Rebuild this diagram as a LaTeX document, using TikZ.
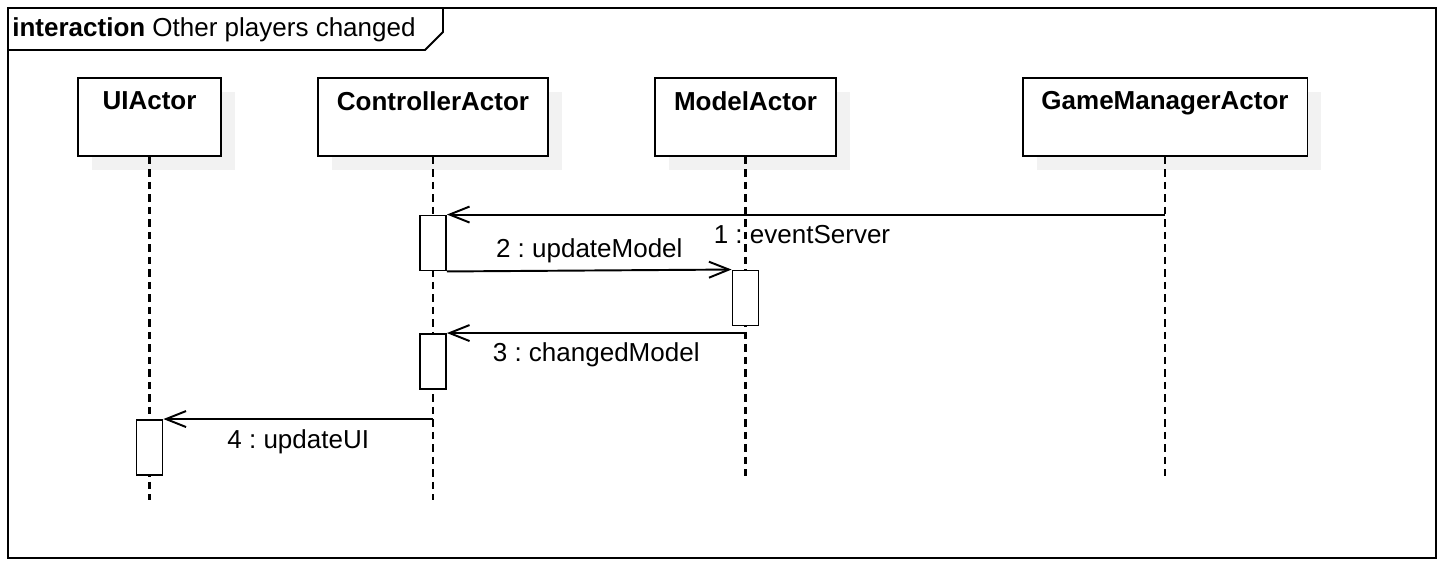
\documentclass[tikz,border=0pt]{standalone}
\usepackage{fontspec}
\setmainfont{Liberation Sans}
\usepackage{tikz}
\usetikzlibrary{arrows.meta, positioning, shadows}
\definecolor{shadowgray}{RGB}{242, 242, 242}
\frenchspacing

\begin{document}
\begin{tikzpicture}[
  x=0.02cm, y=-0.02cm,
  font=\fontsize{14.8}{17}\selectfont,
  actor/.style={draw, line width=1.1pt, fill=white, minimum height=1.56cm, inner sep=0,
    drop shadow={shadow xshift=0.28cm, shadow yshift=-0.28cm, fill=shadowgray, opacity=1}},
  actorname/.style={font=\fontsize{14.8}{17}\selectfont\bfseries, inner sep=0},
  lifeline/.style={line width=1.3pt, dash pattern=on 0.15cm off 0.1cm},
  activation/.style={draw, line width=1.1pt, fill=white, minimum width=0.52cm, minimum height=1.1cm, inner sep=0},
  msg/.style={line width=1.1pt, -{Straight Barb[length=0.4cm, width=0.32cm]}},
  msglabel/.style={inner sep=0}
]
  \useasboundingbox (0,0) rectangle (1444,568);

  % Frame
  \draw[line width=1.1pt] (8,8) rectangle (1436,558);
  \draw[line width=1.1pt] (8,50) -- (425,50) -- (443,32) -- (443,8);
  \node[anchor=base west, inner sep=0] (title) at (12,36) {\textbf{interaction} Other players changed};

  % Actors
  \node[actor, minimum width=2.86cm] (ui) at (149.5,117) {};
  \node[actorname, below=0.28cm of ui.north] {UIActor};
  \node[actor, minimum width=4.6cm] (ctrl) at (433,117) {};
  \node[actorname, below=0.28cm of ctrl.north] {ControllerActor};
  \node[actor, minimum width=3.62cm] (model) at (745.5,117) {};
  \node[actorname, below=0.28cm of model.north] {ModelActor};
  \node[actor, minimum width=5.7cm] (gm) at (1165,117) {};
  \node[actorname, below=0.28cm of gm.north] {GameManagerActor};

  % Lifelines
  \coordinate (uiend) at (149.5,500);
  \coordinate (ctrlend) at (433,500);
  \coordinate (modelend) at (745.5,476);
  \coordinate (gmend) at (1165,476);
  \draw[lifeline] (ui.south) -- (uiend);
  \draw[lifeline] (ctrl.south) -- (ctrlend);
  \draw[lifeline] (model.south) -- (modelend);
  \draw[lifeline] (gm.south) -- (gmend);

  % Activations
  \node[activation] (act1) at (433,243) {};
  \node[activation] (actm) at (745.5,298) {};
  \node[activation] (act2) at (433,361.5) {};
  \node[activation] (actu) at (149.5,447.5) {};

  % Messages
  \draw[msg] (act1.north -| gm.south) -- node[msglabel, midway, below=0.2cm, xshift=-0.08cm] {1 : eventServer} (act1.north east);
  \draw[msg] (act1.south east) -- node[msglabel, midway, above=0.14cm] {2 : updateModel} (actm.north west);
  \draw[msg] (act2.north -| model.south) -- node[msglabel, midway, below=0.18cm] {3 : changedModel} (act2.north east);
  \draw[msg] (actu.north -| ctrl.south) -- node[msglabel, midway, below=0.2cm] {4 : updateUI} (actu.north east);
\end{tikzpicture}
\end{document}
